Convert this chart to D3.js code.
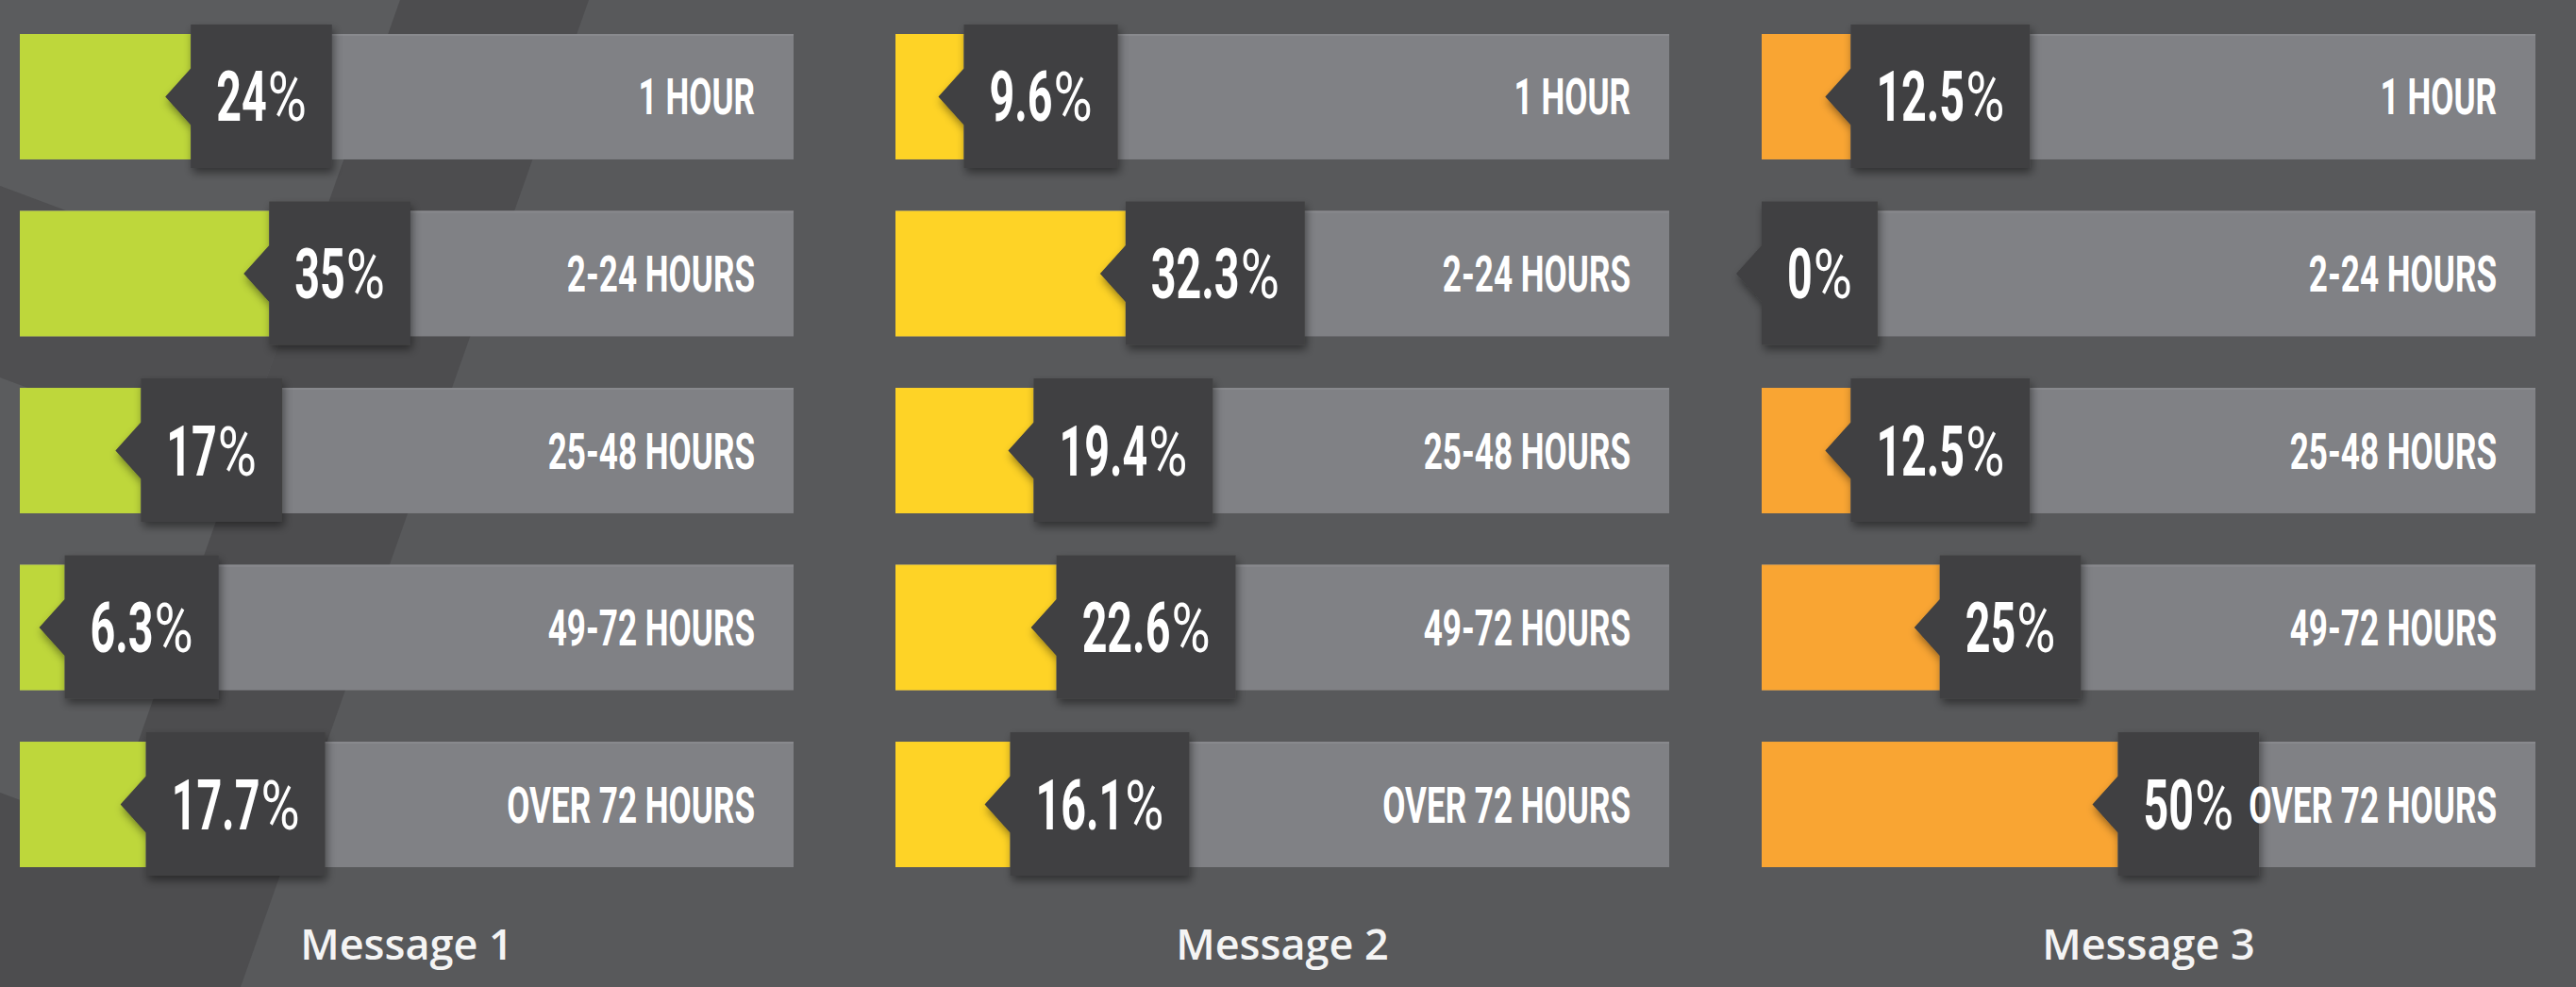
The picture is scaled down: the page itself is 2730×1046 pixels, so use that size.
<!DOCTYPE html>
<html>
<head>
<meta charset="utf-8">
<script src="https://cdn.jsdelivr.net/npm/d3@7"></script>
<style>
  html, body { margin: 0; padding: 0; background: #58595b; }
  svg { display: block; }
</style>
</head>
<body>
<script>
// ---------- data ----------
const categories = ["1 HOUR", "2-24 HOURS", "25-48 HOURS", "49-72 HOURS", "OVER 72 HOURS"];
const messages = ["Message 1", "Message 2", "Message 3"];
const message1 = [24, 35, 17, 6.3, 17.7];
const message2 = [9.6, 32.3, 19.4, 22.6, 16.1];
const message3 = [12.5, 0, 12.5, 25, 50];
const seriesColors = ["#bed73b", "#fed326", "#f9a533"];

const series = [message1, message2, message3];

// ---------- layout ----------
const W = 2730, H = 1046;
const panelLeft = [21, 949, 1867];
const panelW = 820;
const numScaleX = 0.63;   // condensing of value digits
const pctScaleX = 0.78;   // condensing of % sign
const catScaleX = 0.656;  // condensing of category labels

const svg = d3.select("body").append("svg")
  .attr("width", W).attr("height", H);

const defs = svg.append("defs");
const f = defs.append("filter").attr("id", "shadow")
  .attr("x", "-30%").attr("y", "-30%").attr("width", "160%").attr("height", "160%");
f.append("feDropShadow").attr("dx", 2).attr("dy", 5).attr("stdDeviation", 5)
  .attr("flood-color", "#000").attr("flood-opacity", 0.45);

// background
svg.append("rect").attr("width", W).attr("height", H).attr("fill", "#58595b");
svg.append("path")
  .attr("d", "M0,0 L424,0 L313,314 L0,197 Z M0,400 L250,493 L112.7,882 L0,840 Z")
  .attr("fill", "#5b5c5e");
svg.append("path")
  .attr("d", "M424,0 L624,0 L255,1046 L0,1046 L0,840 L112.7,882 Z")
  .attr("fill", "#4d4d4f");
svg.append("path")
  .attr("d", "M0,197 L313,314 L250,493 L0,400 Z")
  .attr("fill", "#4f4f51");

const y = d3.scaleBand().domain(categories).range([36, 919]).paddingInner(0.291).paddingOuter(0);
const x = d3.scaleLinear().domain([0, 100]).range([0, 755]);
const bw = y.bandwidth();

series.forEach((vals, i) => {
  const g = svg.append("g").attr("transform", `translate(${panelLeft[i]},0)`);
  const data = categories.map((c, j) => ({ c, v: vals[j] }));

  const rows = g.selectAll("g.row").data(data).join("g").attr("class", "row");

  // gray track
  rows.append("rect")
    .attr("x", 0).attr("y", d => y(d.c))
    .attr("width", panelW).attr("height", bw)
    .attr("fill", "#808185");
  rows.append("rect")
    .attr("x", 0).attr("y", d => y(d.c))
    .attr("width", panelW).attr("height", 2)
    .attr("fill", "#898a8e");

  // coloured fill
  rows.append("rect")
    .attr("x", 0).attr("y", d => y(d.c))
    .attr("width", d => x(d.v)).attr("height", bw)
    .attr("fill", seriesColors[i]);

  // value flags
  rows.each(function (d) {
    const row = d3.select(this);
    const mid = y(d.c) + bw / 2;
    const top = y(d.c) - 10, bottom = y(d.c) + bw + 9;
    const box = row.append("path").attr("fill", "#404042").attr("filter", "url(#shadow)");
    const numG = row.append("g");
    const pctG = row.append("g");
    const tNum = numG.append("text")
      .attr("font-family", "Roboto, 'DejaVu Sans', sans-serif")
      .attr("font-weight", 700)
      .attr("font-size", 74)
      .attr("fill", "#ffffff")
      .text(String(d.v));
    const tPct = pctG.append("text")
      .attr("font-family", "Roboto, 'DejaVu Sans', sans-serif")
      .attr("font-weight", 400)
      .attr("font-size", 72)
      .attr("fill", "#ffffff")
      .text("%");
    const wNum = tNum.node().getComputedTextLength() * numScaleX;
    const wPct = tPct.node().getComputedTextLength() * pctScaleX;
    const gap = 1;
    const tw = wNum + gap + wPct;
    const left = x(d.v);
    const boxW = tw + 54;
    const right = left + boxW;
    box.attr("d", `M${left},${top} H${right} V${bottom} H${left} V${mid + 30} L${left - 27},${mid} L${left},${mid - 30} Z`);
    const tx = left + (boxW - tw) / 2;
    numG.attr("transform", `translate(${tx},${mid + 26}) scale(${numScaleX},1)`);
    pctG.attr("transform", `translate(${tx + wNum + gap},${mid + 26}) scale(${pctScaleX},1)`);
  });

  // category labels (on top)
  rows.append("g")
    .attr("transform", d => `translate(${panelW - 41},${y(d.c) + bw / 2 + 19}) scale(${catScaleX},1)`)
    .append("text")
    .attr("text-anchor", "end")
    .attr("font-family", "Roboto, 'DejaVu Sans', sans-serif")
    .attr("font-weight", 700)
    .attr("font-size", 53.5)
    .attr("fill", "#ffffff")
    .text(d => d.c);

  // panel title
  g.append("text")
    .attr("x", panelW / 2).attr("y", 1017)
    .attr("text-anchor", "middle")
    .attr("font-family", "'Open Sans', Lato, sans-serif")
    .attr("font-weight", 600)
    .attr("font-size", 45)
    .attr("fill", "#f4f4f4")
    .text(messages[i]);
});
</script>
</body>
</html>
